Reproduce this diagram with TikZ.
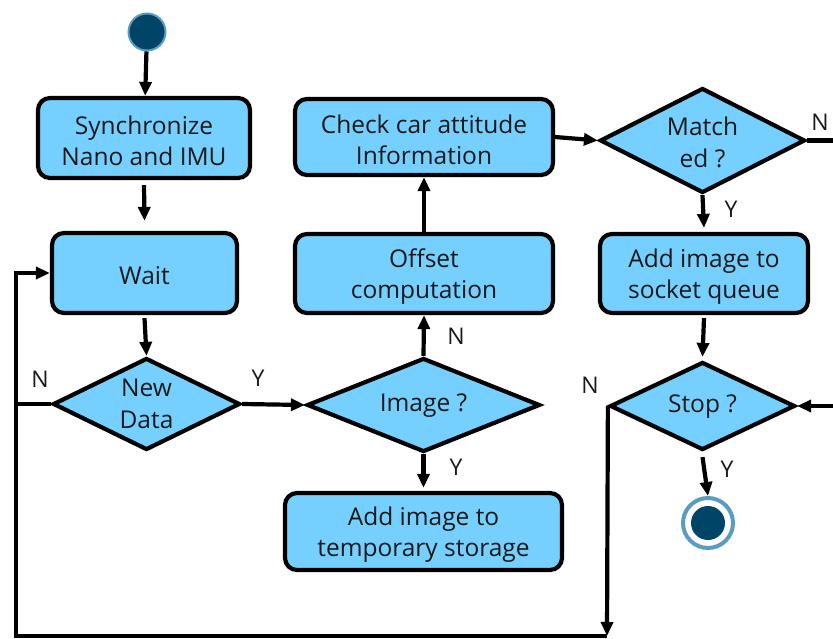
\documentclass[tikz,border=0pt]{standalone}
\usepackage{fontspec}
\setmainfont{Open Sans}
\usetikzlibrary{arrows.meta,shapes.geometric}
\definecolor{boxfill}{RGB}{117,207,255}
\definecolor{darkdot}{RGB}{0,68,104}
\definecolor{ringblue}{RGB}{90,155,192}
\begin{document}
\begin{tikzpicture}[x=1pt,y=-1pt,
  every node/.style={font=\fontsize{24.5}{31.5}\selectfont,align=center,text=black!90},
  stepbox/.style={draw=black,line width=4.2pt,fill=boxfill,rounded corners=12pt,inner sep=0pt},
  txt/.style={label={[yshift=-3pt]center:{#1}}},
  decis/.style={draw=black,line width=4.2pt,fill=boxfill,diamond,inner sep=0pt},
  conn/.style={line width=4.2pt,-{Triangle[length=14pt,width=12pt]}},
  plain/.style={line width=4.2pt},
  lbl/.style={font=\fontsize{23}{25}\selectfont}]
\useasboundingbox (0,0) rectangle (833,639);
% start
\node[circle,fill=darkdot,draw=ringblue,line width=2pt,minimum size=37pt,inner sep=0pt] (start) at (147,32) {};
% boxes
\node[stepbox,minimum width=212pt,minimum height=80pt,txt={Synchronize\\Nano and IMU}] (sync) at (144,138) {};
\node[stepbox,minimum width=185pt,minimum height=80pt,txt={Wait}] (wait) at (144.5,273) {};
\node[decis,minimum width=187pt,minimum height=92pt] (newd) at (146.5,404) {};
\node at (146.5,404) {New\\Data};
\node[decis,minimum width=233pt,minimum height=94pt] (img) at (423.5,405) {};
\node at (423.5,405.5) {Image ?};
\node[stepbox,minimum width=258pt,minimum height=79pt,txt={Offset\\computation}] (off) at (424,273.5) {};
\node[stepbox,minimum width=258pt,minimum height=76pt,txt={Check car attitude\\Information}] (check) at (424,137) {};
\node[decis,minimum width=205pt,minimum height=105pt] (match) at (702.5,140.5) {};
\node at (702.5,142.5) {Match\\ed ?};
\node[stepbox,minimum width=208pt,minimum height=79pt,txt={Add image to\\socket queue}] (sock) at (704,273.5) {};
\node[decis,minimum width=185pt,minimum height=88pt] (stop) at (702.5,406) {};
\node at (702.5,406.5) {Stop ?};
\node[stepbox,minimum width=277pt,minimum height=77pt,txt={Add image to\\temporary storage}] (temp) at (423.5,531.5) {};
% end
\node[circle,draw=ringblue,line width=4pt,minimum size=50pt,inner sep=0pt] (end) at (708,523) {};
\node[circle,fill=darkdot,minimum size=34pt,inner sep=0pt] (endin) at (708,523) {};
% coordinates
\coordinate (wl) at (16,273);
\coordinate (nl) at (16,404);
\coordinate (bl) at (16,636);
\coordinate (br) at (607,636);
\coordinate (mr) at (833,140.5);
\coordinate (sr) at (833,406);
% connectors
\draw[conn] (start) -- (sync);
\draw[conn] ([yshift=-5pt]sync.south) -- ([yshift=10pt]wait.north);
\draw[conn] ([yshift=-3pt]wait.south) -- (newd.north);
\draw[conn] (newd.east) -- (img.west);
\draw[conn] (img.north) -- (off.south);
\draw[conn] (off.north) -- (check.south);
\draw[conn] (check.east) -- (match.west);
\draw[plain] (match.east) -- (mr);
\draw[conn] (match.south) -- ([yshift=4pt]sock.north);
\draw[conn] ([yshift=-3pt]sock.south) -- ([yshift=3pt]stop.north);
\draw[conn] (sr) -- (stop.east);
\draw[conn] ([yshift=-5pt]stop.south) -- (end.north);
\draw[conn] (img.south) -- ([yshift=3pt]temp.north);
\draw[plain] (newd.west) -- (nl);
\draw[conn] (stop.west) -- (br);
\draw[conn] (br) -- (bl) -- (wl) -- (wait.west);
% labels
\node[lbl] at (40,379) {N};
\node[lbl] at (258,378) {Y};
\node[lbl] at (456,336) {N};
\node[lbl] at (456,467) {Y};
\node[lbl] at (820,122) {N};
\node[lbl] at (731,209) {Y};
\node[lbl] at (590,385) {N};
\node[lbl] at (727,469) {Y};
\end{tikzpicture}
\end{document}
